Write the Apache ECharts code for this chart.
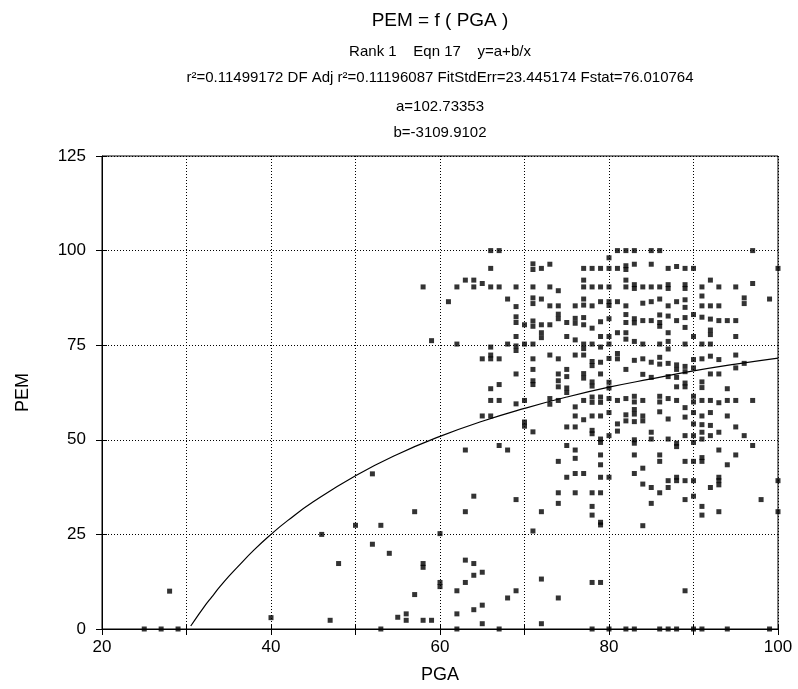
<!DOCTYPE html>
<html>
<head>
<meta charset="utf-8">
<script src="https://cdn.jsdelivr.net/npm/echarts@6/dist/echarts.min.js"></script>
<style>
html,body{margin:0;padding:0;background:#fff;}
#chart{width:798px;height:689px;}
</style>
</head>
<body>
<div id="chart"></div>
<script>
// ---- Text ----
const titleLines = [
  'PEM = f ( PGA )',
  'Rank 1    Eqn 17    y=a+b/x',
  'r\u00B2=0.11499172 DF Adj r\u00B2=0.11196087 FitStdErr=23.445174 Fstat=76.010764',
  'a=102.73353',
  'b=-3109.9102'
];
const xName = 'PGA';
const yName = 'PEM';
const xTickLabels = [20, 40, 60, 80, 100];
const yTickLabels = [0, 25, 50, 75, 100, 125];

// ---- Scatter data [PGA, PEM] ----
const pointsLeft = [
  [25,0],[27,0],[29,0],[28,10],[40,3],[46,25],[47,2.3],[48,17.3],[50,27.4],[52,41],
  [52,22.4],[53,27.4],[53,0],[54,20],[55,3.1],[56,4],[56,2.3],[57,31],[57,9.1],[58,17.3],
  [58,16.3],[58,2.3],[59,2.3],[60,25.2],[60,12.3],[60,11.2],[58,90.4],[59,76.2]
];
const pointsLowMid = [
  [71,52.1],[78,52.5],[78,51.6],[79,50.2],[79,49.3],[63,47.3],[67,48.5],[68,47.3],[75,48.5],[76,47.3],
  [76,45.1],[74,44.3],[79,46],[79,43.4],[75,40.1],[76,41.1],[77,41.1],[79,40.1],[74,36],[76,36],
  [78,36],[79,36],[64,35.1],[69,34.2],[74,33.2],[63,31],[72,31],[78,32.4],[78,30.1],[79,28.2],
  [79,27.5],[71,25.9],[63,18.2],[64,17.3],[65,15],[64,14.2],[63,12.3],[62,10.1],[72,13.2],[78,12.3],
  [79,12.3],[69,10.1],[68,8.2],[74,8.2],[65,6.3],[64,5.1],[62,4],[65,1.4],[72,1.4],[62,0],
  [67,0],[78,0],[75,53.4],[76,53.4]
];
const pointsLowRight = [
  [80,51.1],[81,52.3],[83,50],[83,49.1],[85,52],[85,50.2],[87,50.2],[88,49.1],[88,48.2],[89,51.1],
  [90,51.1],[90,49.3],[91,52],[91,50.2],[92,51.1],[93,52],[96,51.1],[97,48.5],[83,46],[86,46],
  [86,44.3],[93,47.3],[95,46],[89,44.3],[90,44.3],[91,45.3],[91,44.3],[94,43.4],[84,42.5],[80,40.1],
  [83,41.1],[84,38.3],[85,37.4],[86,36],[87,39.2],[87,37.4],[88,40.1],[88,39.2],[89,39.2],[90,39.2],
  [92,37.4],[93,40.1],[93,39.2],[93,38.1],[100,39.2],[85,33.2],[89,34.2],[90,35.1],[98,34.2],[84,27.3],
  [91,32.4],[91,30.1],[93,31],[100,31],[89,10.1],[80,0],[82,0],[83,0],[86,0],[87,0],
  [88,0],[90,0],[91,0],[94,0],[99,0],[92,53.8],[95,53.4]
];
const pointsUpperMid = [
  [66,100],[67,100],[66,95.3],[71,96.5],[71,95],[72,95.3],[73,96.4],[77,95.3],[78,95.3],[79,95.3],
  [63,92.2],[64,92.2],[62,90.4],[64,90.4],[65,91.3],[66,90.4],[67,90.4],[69,90.4],[71,90.4],[73,90.4],
  [74,89.4],[77,92.2],[77,90.4],[78,90.4],[79,90.4],[61,86.5],[68,87.2],[69,85.2],[71,87.5],[71,86],
  [72,87.2],[73,85.4],[74,85.4],[76,85.4],[77,87.2],[77,85.6],[78,85.4],[79,86.5],[74,83.2],[74,82],
  [69,82.5],[69,81],[70,80.4],[71,81.4],[71,80],[72,80.4],[73,80.4],[75,81],[76,82.1],[76,80.8],
  [77,82.3],[77,80.4],[78,79.5],[79,81.2],[72,78.3],[72,77],[75,77.3],[76,76.4],[79,77.3],[69,77.3],
  [62,75.3],[66,74.5],[68,75.3],[69,74.8],[69,73.6],[70,75.3],[71,75.3],[77,75.3],[77,74.1],[77,72.4],
  [78,75.3],[79,74.5],[65,71.4],[66,72.4],[66,71.4],[67,71.4],[71,71.4],[73,72.4],[74,71.4],[76,72.4],
  [78,70.7],[78,69.6],[79,70.5],[71,68.6],[69,67.4],[74,67.4],[75,68.6],[75,66.7],[77,67.5],[77,66.3],
  [79,67.4],[67,64.6],[66,63.5],[71,65.6],[71,64.6],[74,65.6],[74,64],[75,63.7],[75,62.5],[78,65.3],
  [78,64.2],[66,60.4],[67,60.4],[69,59.5],[70,60.4],[73,60.9],[73,59.4],[74,60.4],[76,58.7],[77,60.4],
  [78,61.3],[78,59.9],[79,61.3],[79,59.9],[65,56.3],[66,56.3],[70,54.7],[70,53.6],[76,56.3],[77,55.3],
  [78,56.3],[79,56.3]
];
const pointsAt80 = [
  [80,98.1],[80,95.3],[80,90.4],[80,86.5],[80,85.5],[80,82],[80,77.3],[80,75.3],[80,71.5],[80,65.2],
  [80,63.7],[80,60.9],[80,57.2]
];
const pointsUpperRight = [
  [81,100],[82,100],[83,100],[85,100],[86,100],[97,100],[81,95.3],[82,96],[82,95],[83,96.4],
  [85,96.4],[87,95.3],[88,95.8],[89,95.3],[90,95.3],[100,95.3],[82,92.2],[82,90.4],[83,91],[83,90],
  [84,90.4],[85,90.4],[86,90.4],[87,91],[87,90],[89,91],[89,90],[91,90.4],[92,92.2],[93,90.4],
  [95,90.4],[97,91.3],[91,88],[96,87.5],[96,86],[99,87.2],[81,86.5],[82,85.4],[84,86.1],[85,86.5],
  [86,87.2],[87,85.4],[88,86.5],[89,87],[89,85],[91,85.4],[92,85.4],[93,85.4],[82,83.1],[82,81],
  [83,82],[83,80.9],[84,81.5],[85,81.5],[86,83],[86,81],[86,80],[87,82.7],[88,81.5],[89,82.3],
  [89,79.7],[90,83.1],[91,82.4],[92,81.9],[92,79],[92,77.8],[93,81.5],[94,81.5],[95,81.5],[81,78.3],
  [82,78.3],[82,76.6],[83,76],[84,75.3],[86,75.3],[87,78.3],[87,76],[87,74],[89,75.3],[90,77.3],
  [91,75.3],[92,75.3],[95,77.3],[81,72.8],[81,71.4],[82,68.6],[83,71],[84,71.4],[85,70.5],[86,71.8],
  [86,70],[87,70.2],[88,69.8],[89,69.4],[88,68.6],[88,66.5],[88,64],[89,68],[89,65],[89,64],
  [90,71.2],[90,69],[91,71.4],[92,72.1],[93,71.2],[95,72.4],[95,69],[96,70.2],[84,67.3],[85,66.5],
  [87,66.7],[91,65.3],[91,63.8],[92,67.4],[93,67.4],[94,63.5],[81,60.4],[82,60.9],[83,61.5],[83,60],
  [84,60.4],[86,61.5],[86,60],[87,60.9],[88,60.4],[90,61.5],[90,60],[91,60.4],[92,60.4],[93,59.8],
  [94,60.4],[95,60.4],[97,60.4],[82,56.6],[83,58],[83,56.8],[84,56.3],[86,57.4],[87,55.5],[89,58.5],
  [89,56],[90,57.2],[91,56.3],[92,57.2],[94,56.3],[81,54.2],[82,55],[83,54.8],[84,55],[90,54.2],
  [91,54]
];

// ---- Fitted curve ----
const fitPGA = [30.5,31,32,33,34,35,36,38,40,42,45,50,55,60,65,70,75,80,85,90,95,100];
const fitPEM = [0.8,2.4,5.6,8.5,11.3,13.9,16.3,20.9,25.0,28.7,33.6,40.5,46.2,50.9,54.9,58.3,61.3,63.9,66.1,68.2,70.0,71.6];

// ---- Build ----
const scatterData = [].concat(pointsLeft, pointsLowMid, pointsLowRight, pointsUpperMid, pointsAt80, pointsUpperRight);
const fitData = fitPGA.map((x, i) => [x, fitPEM[i]]);

const FONT = 'Liberation Sans, Arial, sans-serif';
const chart = echarts.init(document.getElementById('chart'), null, {renderer: 'canvas'});

const titleY = [21, 52, 78, 107, 133];
const titleSize = [19, 15, 15, 15, 15];
const gridBox = {left: 102, top: 156, width: 676, height: 476};

const option = {
  animation: false,
  backgroundColor: '#fff',
  graphic: titleLines.map((t, i) => ({
    type: 'text',
    x: 440,
    y: titleY[i],
    style: {
      text: t,
      font: titleSize[i] + 'px ' + FONT,
      fill: '#000',
      textAlign: 'center',
      textVerticalAlign: 'middle'
    }
  })),
  grid: Object.assign({show: true, borderColor: '#000', borderWidth: 1, backgroundColor: 'transparent'}, gridBox),
  xAxis: [{
    type: 'value', min: 20, max: 100, interval: 10,
    name: xName, nameLocation: 'middle', nameGap: 37,
    nameTextStyle: {fontFamily: FONT, fontSize: 18, color: '#000'},
    axisLine: {show: true, onZero: false, lineStyle: {color: '#000', width: 1}},
    axisTick: {show: true, length: 6, lineStyle: {color: '#000'}},
    axisLabel: {
      fontFamily: FONT, fontSize: 17, color: '#000', margin: 10,
      formatter: v => xTickLabels.indexOf(v) >= 0 ? String(v) : ''
    },
    splitLine: {show: true, lineStyle: {color: '#000', type: [1, 2], width: 1}}
  }, {
    type: 'value', min: 20, max: 100, interval: 10, position: 'bottom',
    axisLine: {show: false}, axisLabel: {show: false}, splitLine: {show: false},
    axisTick: {show: true, inside: true, length: 5, lineStyle: {color: '#000'}}
  }],
  yAxis: [{
    type: 'value', min: 0, max: 125, interval: 25,
    name: yName, nameLocation: 'middle', nameGap: 70, nameRotate: 90,
    nameTextStyle: {fontFamily: FONT, fontSize: 18, color: '#000'},
    axisLine: {show: true, onZero: false, lineStyle: {color: '#000', width: 1}},
    axisTick: {show: true, length: 6, lineStyle: {color: '#000'}},
    axisLabel: {
      fontFamily: FONT, fontSize: 17, color: '#000', margin: 16,
      formatter: v => yTickLabels.indexOf(v) >= 0 ? String(v) : ''
    },
    splitLine: {show: true, lineStyle: {color: '#000', type: [1, 2], width: 1}}
  }, {
    type: 'value', min: 0, max: 125, interval: 25, position: 'left',
    axisLine: {show: false}, axisLabel: {show: false}, splitLine: {show: false},
    axisTick: {show: true, inside: true, length: 5, lineStyle: {color: '#000'}}
  }],
  series: [{
    type: 'line',
    data: fitData,
    smooth: true,
    showSymbol: false,
    symbol: 'none',
    lineStyle: {color: '#000', width: 1.2},
    z: 2
  }, {
    type: 'scatter',
    data: scatterData,
    symbol: 'rect',
    symbolSize: 5,
    itemStyle: {color: '#000'},
    z: 3
  }]
};
chart.setOption(option);
</script>
</body>
</html>
